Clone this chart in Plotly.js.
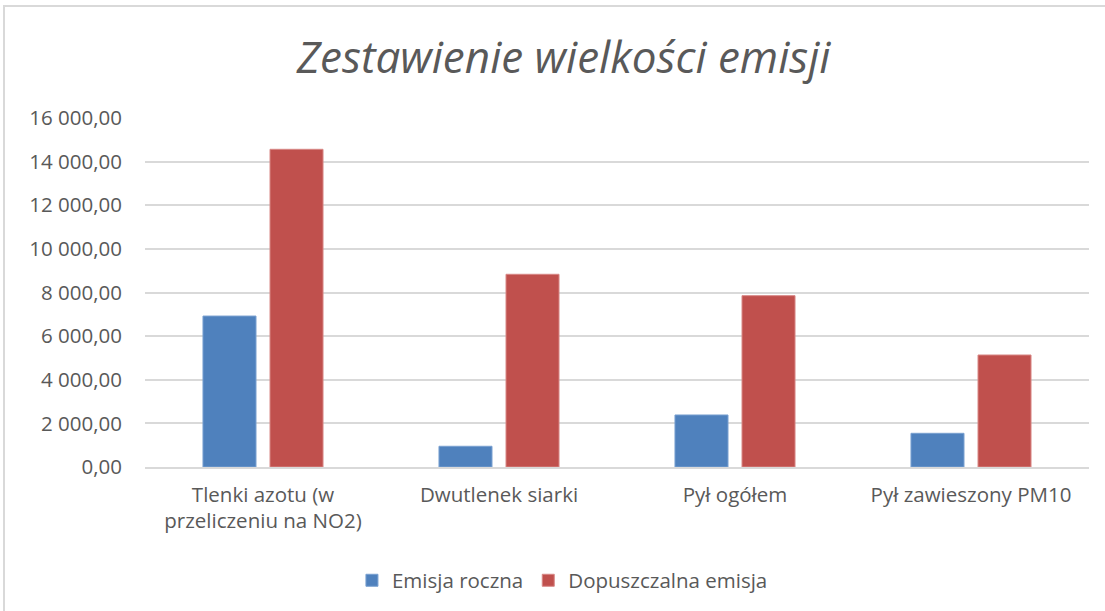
<!DOCTYPE html>
<html>
<head>
<meta charset="utf-8">
<script src="https://cdn.plot.ly/plotly-3.0.1.min.js"></script>
<style>
html,body{margin:0;padding:0;background:#fff;}
#frame{position:absolute;left:3px;top:5px;width:1102px;height:606px;border-top:2px solid #d9d9d9;border-left:2px solid #d9d9d9;box-sizing:border-box;pointer-events:none;z-index:5;}
#chart{position:absolute;left:0;top:0;width:1105px;height:611px;}
</style>
</head>
<body>
<div id="chart"></div>
<div id="frame"></div>
<script>
const categories = ["Tlenki azotu (w<br>przeliczeniu na NO2)", "Dwutlenek siarki", "Pył ogółem", "Pył zawieszony PM10"];
const emisjaRoczna = [6920, 950, 2385, 1545];
const dopuszczalnaEmisja = [14565, 8835, 7855, 5135];
const tickValues = [0, 2000, 4000, 6000, 8000, 10000, 12000, 14000, 16000];
const tickLabels = ["0,00", "2 000,00", "4 000,00", "6 000,00", "8 000,00", "10 000,00", "12 000,00", "14 000,00", "16 000,00"];

const fontFam = "Open Sans, Liberation Sans, sans-serif";
const traces = [
  {type: "bar", name: "Emisja roczna", x: categories, y: emisjaRoczna,
   marker: {color: "#4f81bd", line: {color: "#7aa0d0", width: 1}}, hoverinfo: "y"},
  {type: "bar", name: "Dopuszczalna emisja", x: categories, y: dopuszczalnaEmisja,
   marker: {color: "#c0504d", line: {color: "#d88886", width: 1}}, hoverinfo: "y"}
];
const layout = {
  width: 1105, height: 611,
  margin: {l: 145, r: 16, t: 118, b: 144},
  paper_bgcolor: "#fff", plot_bgcolor: "#fff",
  barmode: "group", bargap: 0.432, bargroupgap: 0.209,
  title: {text: "Zestawienie wielkości emisji", x: 0.51, xanchor: "center", y: 0.905, yanchor: "middle",
          font: {family: fontFam, size: 44, color: "#595959", style: "italic", weight: 400}},
  xaxis: {type: "category", showgrid: false, showline: true, linecolor: "#d9d9d9", linewidth: 2,
          ticks: "", ticklabelstandoff: 8, tickfont: {family: fontFam, size: 20.5, color: "#595959"}, fixedrange: true},
  yaxis: {range: [0, 16000], tickvals: tickValues, ticktext: tickLabels, showgrid: true,
          gridcolor: "#d9d9d9", gridwidth: 2, zeroline: false, showline: false, ticks: "",
          ticklabelstandoff: 22,
          tickfont: {family: fontFam, size: 20.5, color: "#595959"}, fixedrange: true},
  legend: {orientation: "h", xref: "container", yref: "container", x: 0.509, xanchor: "center",
           y: 0.05, yanchor: "middle", font: {family: fontFam, size: 20.5, color: "#595959"},
           itemwidth: 30, traceorder: "normal"},
  showlegend: true
};
Plotly.newPlot("chart", traces, layout, {displayModeBar: false, staticPlot: true});
</script>
</body>
</html>
